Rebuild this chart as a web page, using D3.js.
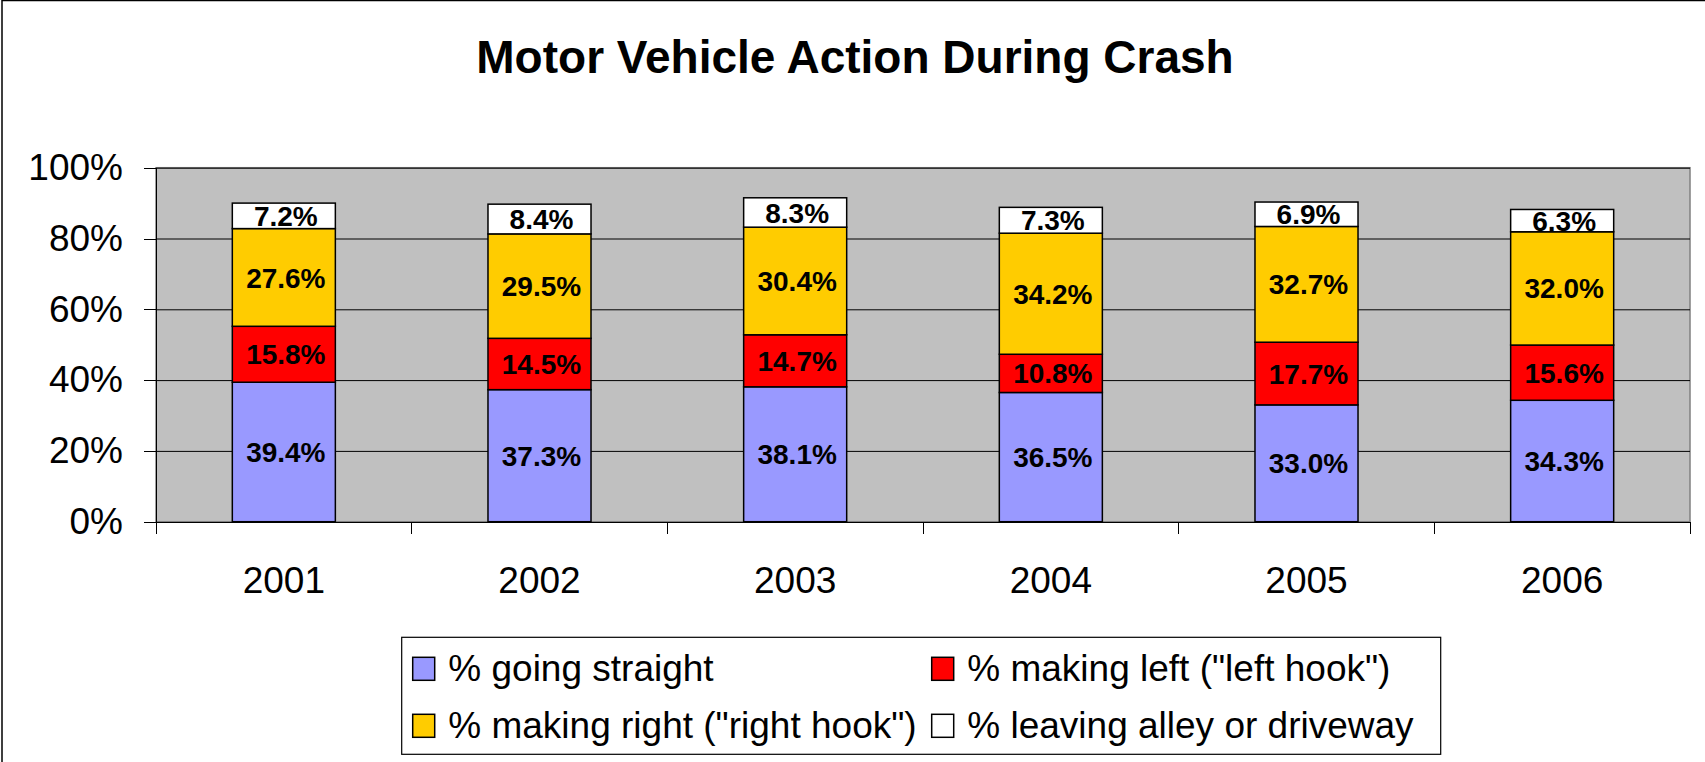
<!DOCTYPE html>
<html>
<head>
<meta charset="utf-8">
<script src="https://cdn.jsdelivr.net/npm/d3@7"></script>
<style>
  body { margin: 0; background: #fff; }
  svg { display: block; font-family: "Liberation Sans", Arial, sans-serif; }
  .grid line { stroke: #000; stroke-width: 1; }
  .axis path, .axis line { stroke: #000; stroke-width: 1; shape-rendering: crispEdges; }
  .axis text { font-size: 37px; fill: #000; }
</style>
</head>
<body>
<svg id="chart" width="1705" height="762"></svg>
<script>
// chart data
var years = ['2001', '2002', '2003', '2004', '2005', '2006']
var goingStraight = [39.4, 37.3, 38.1, 36.5, 33.0, 34.3]
var makingLeft = [15.8, 14.5, 14.7, 10.8, 17.7, 15.6]
var makingRight = [27.6, 29.5, 30.4, 34.2, 32.7, 32.0]
var leavingAlley = [7.2, 8.4, 8.3, 7.3, 6.9, 6.3]
var seriesNames = ['% going straight', '% making left ("left hook")', '% making right ("right hook")', '% leaving alley or driveway']
var seriesColors = ['#9999ff', '#ff0000', '#ffcc00', '#ffffff']
var yTicks = [0, 20, 40, 60, 80, 100]

var svg = d3.select('#chart')
var margin = {top: 167.7, right: 15, bottom: 240.3, left: 156}
var width = 1705 - margin.left - margin.right
var height = 762 - margin.top - margin.bottom

// chart area border (only left/top show in the picture)
svg.append('rect')
    .attr('x', 2).attr('y', 0.5)
    .attr('width', 1720).attr('height', 780)
    .attr('fill', 'none').attr('stroke', '#000').attr('stroke-width', 1.5)

svg.append('text')
    .attr('x', 855).attr('y', 73)
    .attr('text-anchor', 'middle')
    .style('font-size', '46px').style('font-weight', 'bold')
    .text('Motor Vehicle Action During Crash')

var g = svg.append('g').attr('transform', 'translate(' + margin.left + ',' + margin.top + ')')

var x = d3.scaleBand()
    .domain(years)
    .range([0, width])
    .paddingInner(0.597)
    .paddingOuter(0.2985)

var y = d3.scaleLinear()
    .domain([0, 100])
    .range([height, 0])

// plot area
g.append('rect')
    .attr('width', width).attr('height', height)
    .attr('fill', '#c0c0c0')
    .attr('stroke', '#808080').attr('stroke-width', 1.5)

// horizontal grid lines
g.append('g')
    .attr('class', 'grid')
    .call(d3.axisLeft(y).tickValues(yTicks.slice(1)).tickSize(-width).tickFormat(''))
    .call(a => a.select('.domain').remove())

// Y axis
g.append('g')
    .attr('class', 'axis axis--y')
    .call(d3.axisLeft(y).tickValues(yTicks).tickSize(12).tickSizeOuter(0).tickPadding(21).tickFormat(d => d + '%'))

// X axis: line, category separators and labels
var step = x.step()
var xAxis = g.append('g')
    .attr('class', 'axis axis--x')
    .attr('transform', 'translate(0,' + height + ')')
xAxis.call(d3.axisBottom(x).tickSize(0).tickPadding(45.3))
xAxis.selectAll('line.sep')
    .data(d3.range(years.length + 1))
    .enter().append('line')
    .attr('class', 'sep')
    .attr('x1', i => i * step).attr('x2', i => i * step)
    .attr('y1', 0).attr('y2', 12)

// stacked bars
var rows = years.map((yr, i) => ({
    year: yr,
    values: [goingStraight[i], makingLeft[i], makingRight[i], leavingAlley[i]]
}))
var keys = [0, 1, 2, 3]
var stack = d3.stack()
    .keys(keys)
    .value((d, k) => d.values[k])
var layers = stack(rows)

var layerG = g.selectAll('.layer')
    .data(layers)
    .enter().append('g')
    .attr('class', 'layer')
    .attr('fill', d => seriesColors[d.key])

layerG.selectAll('rect')
    .data(d => d)
    .enter().append('rect')
    .attr('x', d => x(d.data.year))
    .attr('y', d => y(d[1]))
    .attr('width', x.bandwidth())
    .attr('height', d => y(d[0]) - y(d[1]))
    .attr('stroke', '#000')
    .attr('stroke-width', 1.5)

layers.forEach(function(layer) {
    g.selectAll('.label-' + layer.key)
        .data(layer)
        .enter().append('text')
        .attr('x', d => x(d.data.year) + x.bandwidth() / 2 + 2)
        .attr('y', d => (y(d[0]) + y(d[1])) / 2)
        .attr('dy', '0.36em')
        .attr('text-anchor', 'middle')
        .style('font-size', '28px').style('font-weight', 'bold')
        .text(d => (d[1] - d[0]).toFixed(1) + '%')
})

// legend
var legend = svg.append('g').attr('transform', 'translate(401.7,637.3)')
legend.append('rect')
    .attr('width', 1039).attr('height', 117)
    .attr('fill', '#fff').attr('stroke', '#000').attr('stroke-width', 1.2)

var legendCols = [11, 530]
var legendRows = [20, 77]
var item = legend.selectAll('.legend-item')
    .data(seriesNames)
    .enter().append('g')
    .attr('class', 'legend-item')
    .attr('transform', (d, i) => 'translate(' + legendCols[i % 2] + ',' + legendRows[Math.floor(i / 2)] + ')')
item.append('rect')
    .attr('width', 22).attr('height', 23)
    .attr('fill', (d, i) => seriesColors[i])
    .attr('stroke', '#000').attr('stroke-width', 1.5)
item.append('text')
    .attr('x', 35.6).attr('y', 23.5)
    .style('font-size', '37px')
    .text(d => d)
</script>
</body>
</html>
